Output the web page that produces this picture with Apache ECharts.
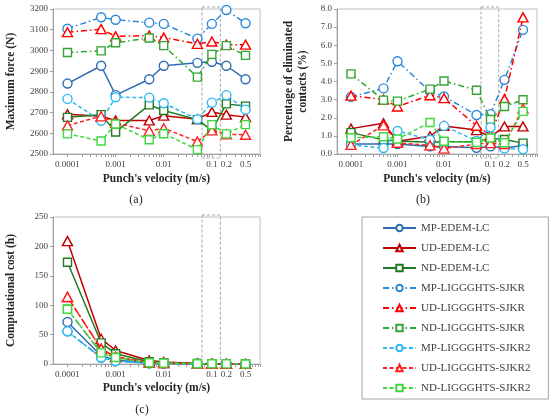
<!DOCTYPE html>
<html><head><meta charset="utf-8">
<script src="https://cdn.jsdelivr.net/npm/echarts@6/dist/echarts.min.js"></script>
<style>html,body{margin:0;padding:0;background:#fff}#c{width:550px;height:418px}</style>
</head><body><div id="c"></div>
<script>
// ---- data ----
const velocities = [0.0001, 0.0005, 0.001, 0.005, 0.01, 0.05, 0.1, 0.2, 0.5];
const xTickLabels = [0.0001, 0.001, 0.01, 0.1, 0.2, 0.5];
const highlightRange = [0.0625, 0.15];
const seriesNames = ['MP-EDEM-LC','UD-EDEM-LC','ND-EDEM-LC','MP-LIGGGHTS-SJKR','UD-LIGGGHTS-SJKR','ND-LIGGGHTS-SJKR','MP-LIGGGHTS-SJKR2','UD-LIGGGHTS-SJKR2','ND-LIGGGHTS-SJKR2'];

// (a) Maximum force (N)
const forceMpEdemLc   = [2840, 2926, 2784, 2861, 2926, 2940, 2945, 2926, 2861];
const forceUdEdemLc   = [2692, 2682, 2662, 2662, 2685, 2668, 2703, 2690, 2678];
const forceNdEdemLc   = [2677, 2690, 2606, 2737, 2710, 2666, 2614, 2742, 2731];
const forceMpSjkr     = [3105, 3160, 3148, 3134, 3128, 3057, 3128, 3195, 3131];
const forceUdSjkr     = [3088, 3103, 3068, 3072, 3062, 3032, 3043, 3028, 3028];
const forceNdSjkr     = [2990, 2998, 3037, 3060, 3023, 2871, 2981, 3023, 2976];
const forceMpSjkr2    = [2766, 2660, 2774, 2772, 2745, 2668, 2748, 2784, 2714];
const forceUdSjkr2    = [2638, 2682, 2650, 2612, 2624, 2560, 2614, 2595, 2593];
const forceNdSjkr2    = [2597, 2563, 2645, 2569, 2598, 2521, 2642, 2597, 2642];

// (b) Percentage of eliminated contacts (%)
const contMpEdemLc    = [0.55, 0.55, 0.55, 0.42, 0.42, 0.34, 0.42, 0.34, 0.45];
const contUdEdemLc    = [1.40, 1.70, 0.70, 0.98, 1.55, 1.32, 0.95, 1.52, 1.52];
const contNdEdemLc    = [1.18, 0.78, 0.72, 0.65, 0.68, 0.68, 0.85, 0.80, 0.60];
const contMpSjkr      = [3.15, 3.62, 5.12, 3.45, 3.17, 2.15, 2.20, 4.09, 6.85];
const contUdSjkr      = [3.22, 3.00, 2.62, 3.24, 3.08, 1.56, 1.06, 3.03, 7.54];
const contNdSjkr      = [4.42, 2.97, 2.92, 3.58, 4.03, 3.52, 1.90, 2.62, 2.99];
const contMpSjkr2     = [0.50, 0.33, 1.27, 0.79, 1.55, 0.72, 1.47, 0.31, 0.26];
const contUdSjkr2     = [0.50, 1.58, 0.62, 0.48, 0.30, 0.55, 0.60, 0.55, 2.50];
const contNdSjkr2     = [0.90, 0.95, 0.83, 1.74, 0.70, 0.64, 0.88, 0.62, 2.35];

// (c) Computational cost (h)
const costMpEdemLc    = [71.5, 14, 7, 1.5, 1.0, 0.4, 0.3, 0.2, 0.1];
const costUdEdemLc    = [209, 43, 23, 6, 3.5, 1.0, 0.6, 0.4, 0.2];
const costNdEdemLc    = [173, 36, 17.5, 4, 2.0, 0.8, 0.5, 0.3, 0.2];
const costMpSjkr      = [55.5, 11, 5, 1.2, 0.8, 0.3, 0.2, 0.1, 0.1];
const costUdSjkr      = [114, 26, 12, 2.5, 1.5, 0.5, 0.3, 0.2, 0.1];
const costNdSjkr      = [93, 19, 11, 2, 1.5, 0.5, 0.3, 0.2, 0.1];
const costMpSjkr2     = [55.5, 11, 5, 1.2, 0.8, 0.3, 0.2, 0.1, 0.1];
const costUdSjkr2     = [114, 26, 12, 2.5, 1.5, 0.5, 0.3, 0.2, 0.1];
const costNdSjkr2     = [93, 19, 11, 2, 1.5, 0.5, 0.3, 0.2, 0.1];

const forceSets = [forceMpEdemLc, forceUdEdemLc, forceNdEdemLc, forceMpSjkr, forceUdSjkr, forceNdSjkr, forceMpSjkr2, forceUdSjkr2, forceNdSjkr2];
const contSets  = [contMpEdemLc, contUdEdemLc, contNdEdemLc, contMpSjkr, contUdSjkr, contNdSjkr, contMpSjkr2, contUdSjkr2, contNdSjkr2];
const costSets  = [costMpEdemLc, costUdEdemLc, costNdEdemLc, costMpSjkr, costUdSjkr, costNdSjkr, costMpSjkr2, costUdSjkr2, costNdSjkr2];

// ---- styles ----
const DASHDOT = [6, 3, 1.5, 3];
const DASHED = [4, 2.5];
const styleDefs = [
  {color:'#2E6DB4', symbol:'circle',   dash:'solid'},
  {color:'#C00000', symbol:'triangle', dash:'solid'},
  {color:'#217A21', symbol:'rect',     dash:'solid'},
  {color:'#2B88D8', symbol:'circle',   dash:DASHDOT},
  {color:'#FF0000', symbol:'triangle', dash:DASHDOT},
  {color:'#33A532', symbol:'rect',     dash:DASHDOT},
  {color:'#2EB8F0', symbol:'circle',   dash:DASHED},
  {color:'#FF2020', symbol:'triangle', dash:DASHED},
  {color:'#3CD83C', symbol:'rect',     dash:DASHED}
];
const symSize = {circle: 9, triangle: [10, 9], rect: 8};

const FONT = 'Liberation Serif';
const textColor = '#404040';

const minorTicks = [];
[0.0001, 0.001, 0.01, 0.1].forEach(d => { for (let k = 1; k <= 9; k++) minorTicks.push(+(d * k).toPrecision(3)); });
minorTicks.push(1);

function xAxisDef(gi) {
  return {
    type: 'log', gridIndex: gi, min: 0.00005, max: 1, logBase: 10,
    name: "Punch's velocity (m/s)", nameLocation: 'middle', nameGap: gi === 2 ? 18 : 19,
    nameTextStyle: {fontFamily: FONT, fontWeight: 'bold', fontSize: 11.5, color: '#262626'},
    axisLine: {show: true, lineStyle: {color: '#A0A0A0', width: 1}},
    axisTick: {show: true, customValues: minorTicks, length: 3, inside: false, lineStyle: {color: '#A0A0A0'}},
    axisLabel: {customValues: xTickLabels, formatter: v => String(v), fontFamily: FONT, fontSize: 9, color: textColor, margin: 6},
    splitLine: {show: false}, minorTick: {show: false}
  };
}
function yAxisDef(gi, min, max, interval, name, gap, fmt) {
  return {
    type: 'value', gridIndex: gi, min, max, interval,
    name, nameLocation: 'middle', nameGap: gap, nameRotate: 90,
    nameTextStyle: {fontFamily: FONT, fontWeight: 'bold', fontSize: 11.5, color: '#262626', lineHeight: 14},
    axisLine: {show: true, lineStyle: {color: '#A0A0A0', width: 1}},
    axisTick: {show: true, length: 3, lineStyle: {color: '#A0A0A0'}},
    axisLabel: {fontFamily: FONT, fontSize: 9, color: textColor, margin: 5, formatter: fmt},
    splitLine: {show: false}
  };
}

const series = [];
[forceSets, contSets, costSets].forEach((sets, gi) => {
  sets.forEach((vals, i) => {
    const s = styleDefs[i];
    series.push({
      name: seriesNames[i], type: 'line', xAxisIndex: gi, yAxisIndex: gi,
      data: velocities.map((v, k) => [v, vals[k]]),
      symbol: s.symbol, symbolSize: symSize[s.symbol], showSymbol: true,
      lineStyle: {color: s.color, width: 1.5, type: s.dash},
      itemStyle: {color: '#fff', borderColor: s.color, borderWidth: 1.4},
      emphasis: {disabled: true}, animation: false, z: 2 + i * 0.01
    });
  });
});

const titleStyle = {fontFamily: FONT, fontWeight: 'normal', fontSize: 12, color: '#262626'};
const chart = echarts.init(document.getElementById('c'), null, {renderer: 'canvas'});
chart.setOption({
  backgroundColor: '#fff',
  animation: false,
  grid: [
    {left: 53, top: 9, width: 207, height: 145, show: true, borderColor: '#BFBFBF', borderWidth: 1},
    {left: 337, top: 9, width: 200, height: 145, show: true, borderColor: '#BFBFBF', borderWidth: 1},
    {left: 53, top: 217, width: 207, height: 147, show: true, borderColor: '#BFBFBF', borderWidth: 1}
  ],
  title: [
    {text: '(a)', left: 136, top: 194, padding: 0, textAlign: 'center', textStyle: titleStyle},
    {text: '(b)', left: 423, top: 194, padding: 0, textAlign: 'center', textStyle: titleStyle},
    {text: '(c)', left: 142, top: 404, padding: 0, textAlign: 'center', textStyle: titleStyle}
  ],
  xAxis: [xAxisDef(0), xAxisDef(1), xAxisDef(2)],
  yAxis: [
    yAxisDef(0, 2500, 3200, 100, 'Maximum force (N)', 35, v => String(v)),
    yAxisDef(1, 0, 8, 1, 'Percentage of eliminated\ncontacts (%)', 27, v => v.toFixed(1)),
    yAxisDef(2, 0, 250, 50, 'Computational cost (h)', 35, v => String(v))
  ],
  legend: {
    data: seriesNames, orient: 'vertical', left: 362, top: 217,
    padding: [4, 18, 4, 20], itemGap: 6, itemWidth: 33, itemHeight: 8,
    borderColor: '#A6A6A6', borderWidth: 1, backgroundColor: '#fff',
    textStyle: {fontFamily: FONT, fontSize: 11, color: textColor, lineHeight: 14},
    selectedMode: false
  },
  series
});

function addHighlight() {
  const els = [];
  [[0, 3200, 2500], [1, 8, 0], [2, 250, 0]].forEach(([gi, yTop, yBot]) => {
    const p1 = chart.convertToPixel({gridIndex: gi}, [highlightRange[0], yTop]);
    const p2 = chart.convertToPixel({gridIndex: gi}, [highlightRange[1], yBot]);
    els.push({
      type: 'rect', silent: true, z: 1,
      shape: {x: p1[0], y: p1[1] - 2, width: p2[0] - p1[0], height: p2[1] - p1[1] + 6},
      style: {fill: 'none', stroke: '#A6A6A6', lineWidth: 1, lineDash: [3, 2]}
    });
  });
  chart.setOption({graphic: els});
}
addHighlight();
</script>
</body></html>
